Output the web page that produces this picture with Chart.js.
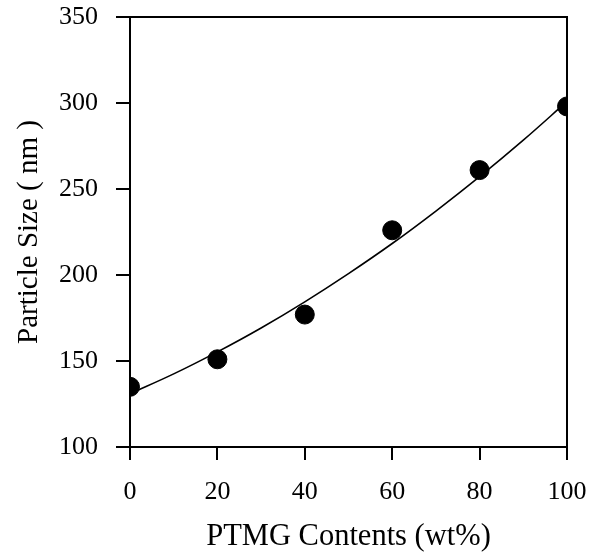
<!DOCTYPE html>
<html>
<head>
<meta charset="utf-8">
<title>Particle size vs PTMG content</title>
<script src="https://cdn.jsdelivr.net/npm/chart.js@4/dist/chart.umd.min.js"></script>
<style>
  html, body { margin: 0; padding: 0; background: #fff; }
  #wrap { width: 601px; height: 555px; }
</style>
</head>
<body>
<div id="wrap"><canvas id="myChart" width="601" height="555"></canvas></div>
<script>
// Measured particle sizes (nm) at each PTMG content (wt%)
const ptmgContent = [0, 20, 40, 60, 80, 100];
const particleSize = [135, 151, 177, 226, 261, 298];

// Trend curve drawn through the measurements
const curveX = [0, 10, 20, 30, 40, 50, 60, 70, 80, 90, 100];
const curveY = [131, 142.5, 155.3, 169.2, 184.4, 200.8, 218.3, 237.2, 257.2, 278.4, 300.9];

const xTicks = [0, 20, 40, 60, 80, 100];
const yTicks = [100, 150, 200, 250, 300, 350];

const serif = 'Liberation Serif, Times New Roman, serif';

// fixed axis sizes; drop the label overhang padding so the frame sits where set
function fixSize(prop, size) {
    return scale => {
        scale[prop] = size;
        scale.paddingTop = 0;
        scale.paddingBottom = 0;
        scale.paddingLeft = 0;
        scale.paddingRight = 0;
    };
}

const ctx = document.getElementById('myChart').getContext('2d');
const myChart = new Chart(ctx, {
    type: 'scatter',
    data: {
        datasets: [{
            label: 'Particle size',
            data: ptmgContent.map((x, i) => ({ x: x, y: particleSize[i] })),
            backgroundColor: '#000',
            borderColor: '#000',
            pointRadius: 9.5,
            pointHoverRadius: 9.5,
            order: 1
        }, {
            label: 'Fit',
            type: 'line',
            data: curveX.map((x, i) => ({ x: x, y: curveY[i] })),
            borderColor: '#000',
            borderWidth: 1.6,
            pointRadius: 0,
            tension: 0.4,
            fill: false,
            order: 2
        }]
    },
    options: {
        responsive: false,
        animation: false,
        layout: { padding: 0 },
        plugins: {
            legend: { display: false },
            tooltip: { enabled: false }
        },
        scales: {
            x: {
                type: 'linear',
                position: 'bottom',
                min: 0,
                max: 100,
                afterFit: fixSize('height', 108),
                afterBuildTicks: scale => { scale.ticks = xTicks.map(v => ({ value: v })); },
                border: { display: true, color: '#000', width: 2 },
                grid: { display: true, drawOnChartArea: false, drawTicks: true, tickLength: 13, color: '#000', lineWidth: 2 },
                ticks: { color: '#000', padding: 17, maxRotation: 0, font: { family: serif, size: 26 } },
                title: {
                    display: true,
                    text: 'PTMG Contents (wt%)',
                    color: '#000',
                    padding: { top: 0, bottom: 0 },
                    font: { family: serif, size: 30.5 }
                }
            },
            y: {
                type: 'linear',
                position: 'left',
                min: 100,
                max: 350,
                afterFit: fixSize('width', 130),
                afterBuildTicks: scale => { scale.ticks = yTicks.map(v => ({ value: v })); },
                border: { display: true, color: '#000', width: 2 },
                grid: { display: true, drawOnChartArea: false, drawTicks: true, tickLength: 14, color: '#000', lineWidth: 2 },
                ticks: { color: '#000', padding: 18, font: { family: serif, size: 26 } },
                title: {
                    display: true,
                    text: 'Particle Size ( nm )',
                    color: '#000',
                    padding: { top: 12, bottom: 0 },
                    font: { family: serif, size: 29 }
                }
            },
            xTop: {
                type: 'linear',
                position: 'top',
                min: 0,
                max: 100,
                afterFit: fixSize('height', 17),
                border: { display: true, color: '#000', width: 2 },
                grid: { display: false },
                ticks: { display: false }
            },
            yRight: {
                type: 'linear',
                position: 'right',
                min: 100,
                max: 350,
                afterFit: fixSize('width', 34),
                border: { display: true, color: '#000', width: 2 },
                grid: { display: false },
                ticks: { display: false }
            }
        }
    }
});
</script>
</body>
</html>
